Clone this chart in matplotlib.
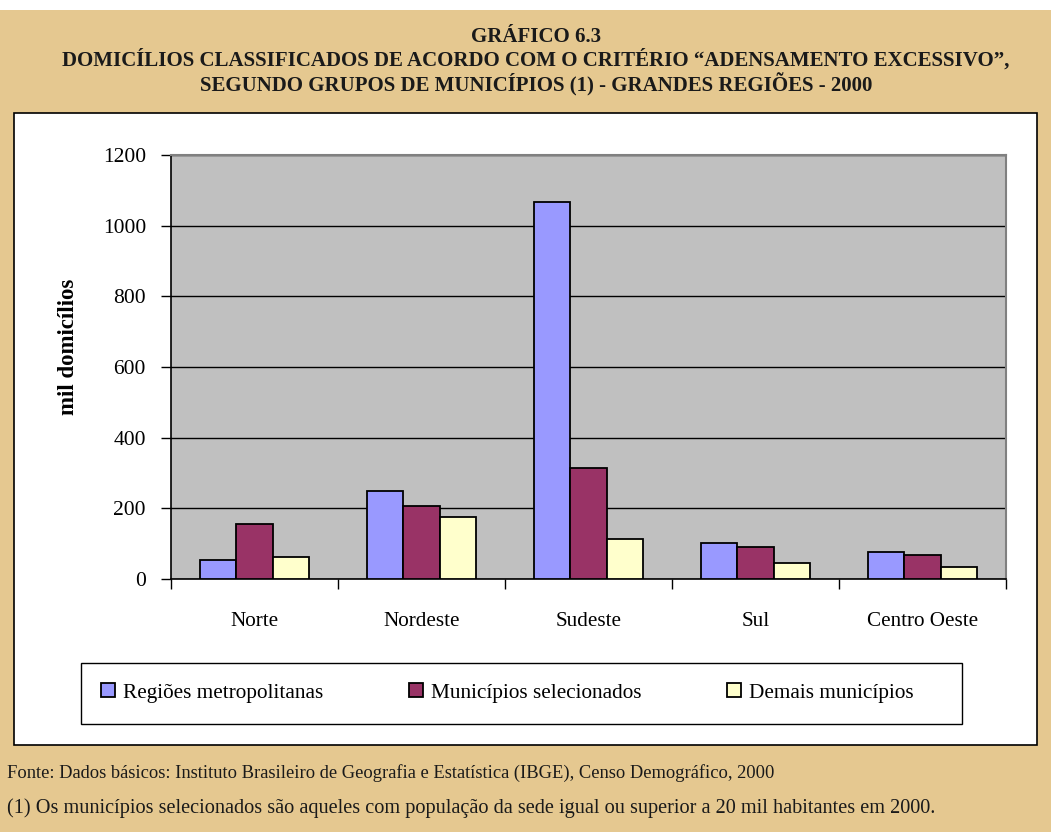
import matplotlib
matplotlib.use("Agg")
import matplotlib.pyplot as plt
import numpy as np
from matplotlib.patches import Rectangle, Patch

categories = ["Norte", "Nordeste", "Sudeste", "Sul", "Centro Oeste"]
series_names = ["Regiões metropolitanas", "Municípios selecionados", "Demais municípios"]
regioes_metropolitanas = [54, 249, 1067, 101, 77]
municipios_selecionados = [156, 207, 315, 90, 68]
demais_municipios = [63, 175, 113, 44, 33]
yticks = [0, 200, 400, 600, 800, 1000, 1200]
colors = ["#9999FF", "#993366", "#FFFFCC"]

W, H = 1051, 832
fig = plt.figure(figsize=(W / 100, H / 100), dpi=100)
fig.patch.set_facecolor("#E5C890")
plt.rcParams["font.family"] = ["Liberation Serif", "DejaVu Serif"]

# white strip at the top
fig.patches.append(Rectangle((0, 1 - 10 / H), 1, 10 / H, transform=fig.transFigure,
                             facecolor="white", edgecolor="none", zorder=-6))
# white chart box
fig.patches.append(Rectangle((14 / W, 1 - 745 / H), (1037 - 14) / W, (745 - 113) / H,
                             transform=fig.transFigure, facecolor="white",
                             edgecolor="black", linewidth=1.2, zorder=-5))
# legend frame
fig.patches.append(Rectangle((81 / W, 1 - 724 / H), (962 - 81) / W, (724 - 663) / H,
                             transform=fig.transFigure, facecolor="white",
                             edgecolor="black", linewidth=1.0, zorder=-4))

tfs = 15
tx = 536 / W
fig.text(tx, 1 - 37 / H, "GRÁFICO 6.3", ha="center", va="center",
         fontsize=tfs, fontweight="bold", color="#1a1a1a")
fig.text(tx, 1 - 60 / H,
         "DOMICÍLIOS CLASSIFICADOS DE ACORDO COM O CRITÉRIO \u201cADENSAMENTO EXCESSIVO\u201d,",
         ha="center", va="center", fontsize=tfs, fontweight="bold", color="#1a1a1a")
fig.text(tx, 1 - 85 / H,
         "SEGUNDO GRUPOS DE MUNICÍPIOS (1) - GRANDES REGIÕES - 2000",
         ha="center", va="center", fontsize=tfs, fontweight="bold", color="#1a1a1a")

ax = fig.add_axes([171 / W, 1 - 579 / H, (1006 - 171) / W, (579 - 155) / H])
ax.set_facecolor("#C0C0C0")

x = np.arange(len(categories))
bw = 0.216
data = [regioes_metropolitanas, municipios_selecionados, demais_municipios]
for i, (vals, c, name) in enumerate(zip(data, colors, series_names)):
    ax.bar(x + (i - 1) * bw, vals, width=bw, color=c, edgecolor="black",
           linewidth=1.3, zorder=3, label=name)

ax.set_xlim(-0.5, len(categories) - 0.5)
ax.set_ylim(0, 1200)
ax.set_yticks(yticks)
ax.set_yticklabels([str(v) for v in yticks], fontsize=15.5)
ax.yaxis.grid(True, color="black", linewidth=1, zorder=1)
ax.set_axisbelow(True)

ax.set_xticks(x)
ax.set_xticklabels(categories, fontsize=15.2)
ax.tick_params(axis="x", length=0, pad=24)
ax.set_xticks(np.arange(-0.5, len(categories) + 0.5, 1), minor=True)
ax.tick_params(axis="x", which="minor", length=7, width=1, direction="out")
ax.tick_params(axis="y", length=7, width=1, direction="out", pad=11)

for s in ["left", "bottom"]:
    ax.spines[s].set_color("black")
    ax.spines[s].set_linewidth(1.2)
for s in ["top", "right"]:
    ax.spines[s].set_color("#808080")
    ax.spines[s].set_linewidth(1.5)

fig.text(68 / W, 1 - 347 / H, "mil domicílios", rotation=90, ha="center", va="center",
         fontsize=16.5, fontweight="bold")

handles = [Patch(facecolor=c, edgecolor="black", linewidth=1.3) for c in colors]
leg = fig.legend(handles, series_names, loc="center left",
                 bbox_to_anchor=(101 / W, 1 - 693 / H),
                 ncol=3, fontsize=15.3, frameon=False,
                 handlelength=0.65, handleheight=0.65, handletextpad=0.37,
                 columnspacing=4.05, borderaxespad=0.0, borderpad=0.0)

fig.text(7 / W, 1 - 773 / H,
         "Fonte: Dados básicos: Instituto Brasileiro de Geografia e Estatística (IBGE), Censo Demográfico, 2000",
         ha="left", va="center", fontsize=13.3, color="#1a1a1a")
fig.text(7 / W, 1 - 808 / H,
         "(1) Os municípios selecionados são aqueles com população da sede igual ou superior a 20 mil habitantes em 2000.",
         ha="left", va="center", fontsize=14.6, color="#1a1a1a")

fig.savefig("out.png", dpi=100, facecolor=fig.get_facecolor())
